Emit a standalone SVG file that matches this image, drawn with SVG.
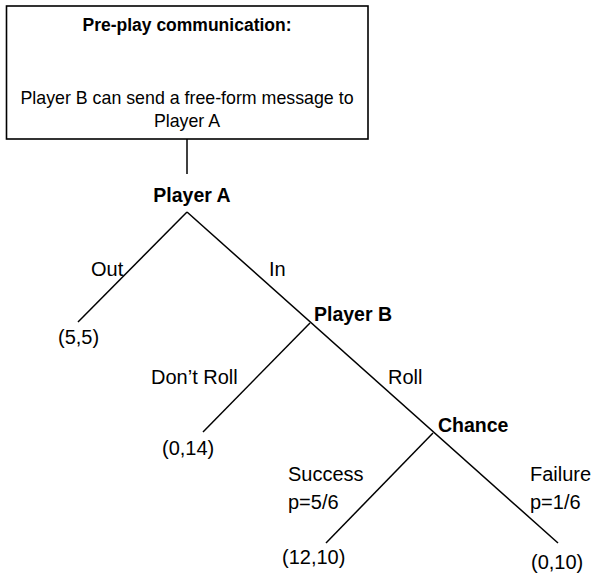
<svg xmlns="http://www.w3.org/2000/svg" width="595" height="576" viewBox="0 0 595 576">
<style>
  .t { font-family: "Liberation Sans", Arial, sans-serif; font-size: 20px; fill: #000; }
  .b { font-weight: bold; font-size: 19.5px; }
  .box { fill: #fff; stroke: #000; stroke-width: 1.6; }
  .e { stroke: #000; stroke-width: 1.5; fill: none; }
</style>
<rect width="595" height="576" fill="#fff"/>
<g id="preplay">
  <rect class="box" x="6.5" y="6" width="361.5" height="133"/>
  <text class="t b" x="187" y="31" text-anchor="middle" style="font-size:17.5px">Pre-play communication:</text>
  <text class="t" x="187" y="104" text-anchor="middle" style="font-size:17.8px">Player B can send a free-form message to</text>
  <text class="t" x="187" y="127" text-anchor="middle" style="font-size:17.8px">Player A</text>
</g>
<g id="connectors">
  <line class="e" x1="187" y1="139" x2="187" y2="174"/>
  <line class="e" x1="187" y1="212" x2="78" y2="322"/>
  <line class="e" x1="187" y1="212" x2="558" y2="543"/>
  <line class="e" x1="310" y1="323" x2="203" y2="432"/>
  <line class="e" x1="433" y1="433" x2="326" y2="543"/>
  <text class="t" x="91" y="276">Out</text>
  <text class="t" x="269" y="276">In</text>
  <text class="t" x="151" y="384">Don’t Roll</text>
  <text class="t" x="388" y="384">Roll</text>
  <text class="t" x="288" y="481">Success</text>
  <text class="t" x="288" y="509">p=5/6</text>
  <text class="t" x="530" y="481">Failure</text>
  <text class="t" x="530" y="509">p=1/6</text>
</g>
<g id="playerA"><text class="t b" x="192" y="202" text-anchor="middle">Player A</text></g>
<g id="playerB"><text class="t b" x="314" y="321">Player B</text></g>
<g id="chance"><text class="t b" x="438" y="432">Chance</text></g>
<g id="out55"><text class="t" x="58" y="344">(5,5)</text></g>
<g id="dontroll014"><text class="t" x="162" y="455">(0,14)</text></g>
<g id="success1210"><text class="t" x="282" y="564">(12,10)</text></g>
<g id="failure010"><text class="t" x="531" y="569">(0,10)</text></g>
</svg>
